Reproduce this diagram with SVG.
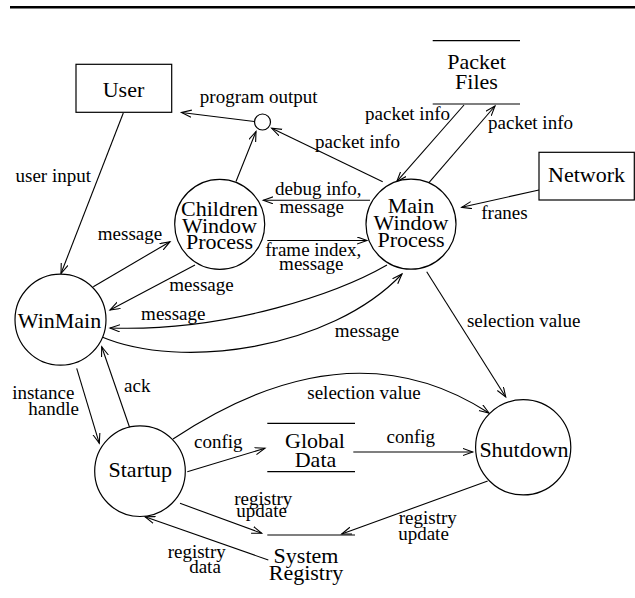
<svg xmlns="http://www.w3.org/2000/svg" width="635" height="598" viewBox="0 0 635 598">
<style>
text{font-family:'Liberation Serif','DejaVu Serif',serif;fill:#000;text-anchor:middle}
.n{font-size:22px}
.l{font-size:19px}
.e{text-anchor:end}
.s{fill:#fff;stroke:#000;stroke-width:1.2}
.b{stroke:#000;stroke-width:1.2;fill:none}
.c{fill:none;stroke:#000;stroke-width:1.1;marker-end:url(#arr)}
</style>
<defs>
<marker id="arr" markerWidth="12" markerHeight="10" refX="10" refY="4" orient="auto" markerUnits="userSpaceOnUse">
<path d="M0,0.4 L10,4 L0,7.6" fill="none" stroke="#000" stroke-width="1.1"/>
</marker>
</defs>
<rect width="635" height="598" fill="#fff"/>
<line x1="10" y1="7.2" x2="635" y2="7.2" stroke="#000" stroke-width="2.6"/>

<g id="connectors" font-family="Liberation Serif, DejaVu Serif, serif">
<line class="c" x1="123.3" y1="113" x2="61" y2="273.5"/>
<line class="c" x1="254.3" y1="121.5" x2="181.5" y2="112.5"/>
<line class="c" x1="236" y1="181.5" x2="256" y2="131.5"/>
<line class="c" x1="382.7" y1="181.7" x2="271.7" y2="128.3"/>
<line class="c" x1="370" y1="200.3" x2="263.3" y2="200.3"/>
<line class="c" x1="267.3" y1="240.5" x2="367" y2="240.5"/>
<line class="c" x1="93.3" y1="286.7" x2="170" y2="241.7"/>
<line class="c" x1="195" y1="265" x2="110" y2="310"/>
<path class="c" d="M387,265 C340,292 230,332 110,328"/>
<path class="c" d="M102,337 C180,370 330,350 402,274"/>
<line class="c" x1="76.7" y1="368.3" x2="99.3" y2="443.3"/>
<line class="c" x1="130.5" y1="430" x2="101.7" y2="346.7"/>
<path class="c" d="M173,439 Q349,322 489,413"/>
<line class="c" x1="426.7" y1="271.7" x2="505.7" y2="397"/>
<line class="c" x1="187.3" y1="471.7" x2="265" y2="448.3"/>
<line class="c" x1="353.3" y1="452" x2="472.7" y2="452"/>
<line class="c" x1="180" y1="503.3" x2="261.7" y2="533.3"/>
<line class="c" x1="487.7" y1="481" x2="341.7" y2="534"/>
<line class="c" x1="268.3" y1="560" x2="145" y2="516.7"/>
<line class="c" x1="428.3" y1="183.3" x2="495" y2="106"/>
<line class="c" x1="464" y1="105" x2="396.7" y2="181.7"/>
<line class="c" x1="539" y1="190" x2="461.7" y2="207.3"/>

<text class="l e" x="91" y="182">user input</text>
<text class="l" x="258.7" y="102.5">program output</text>
<text class="l e" x="400" y="148.3">packet info</text>
<text class="l" x="407.5" y="120">packet info</text>
<text class="l" x="530.5" y="129.3">packet info</text>
<text class="l" x="504.5" y="219.3">franes</text>
<text class="l" x="318.3" y="195">debug info,</text>
<text class="l" x="311.7" y="212.7">message</text>
<text class="l" x="313.3" y="256">frame index,</text>
<text class="l" x="311.3" y="270">message</text>
<text class="l" x="130" y="240">message</text>
<text class="l" x="201.5" y="291">message</text>
<text class="l" x="173.3" y="320">message</text>
<text class="l" x="367" y="336.7">message</text>
<text class="l" x="523.7" y="327.3">selection value</text>
<text class="l" x="43.3" y="399.3">instance</text>
<text class="l" x="53.7" y="415">handle</text>
<text class="l" x="137.3" y="391.7">ack</text>
<text class="l" x="364" y="399.3">selection value</text>
<text class="l" x="218.3" y="448">config</text>
<text class="l" x="410.8" y="442.7">config</text>
<text class="l" x="263.3" y="505">registry</text>
<text class="l" x="261.7" y="517.3">update</text>
<text class="l" x="427.8" y="524">registry</text>
<text class="l" x="423.5" y="540">update</text>
<text class="l" x="196.7" y="558.3">registry</text>
<text class="l" x="205" y="572.7">data</text>
</g>

<g id="user" font-family="Liberation Serif, DejaVu Serif, serif">
<rect class="s" x="76" y="64.3" width="95.7" height="48"/>
<text class="n" x="123.5" y="96.7">User</text>
</g>
<g id="network" font-family="Liberation Serif, DejaVu Serif, serif">
<rect class="s" x="539" y="152.3" width="95.3" height="47.7"/>
<text class="n" x="586.5" y="181.7">Network</text>
</g>
<g id="packet-files" font-family="Liberation Serif, DejaVu Serif, serif">
<line class="b" x1="432.7" y1="40.7" x2="520" y2="40.7"/>
<line class="b" x1="432.7" y1="104" x2="520" y2="104"/>
<text class="n" x="476.5" y="69.3">Packet</text>
<text class="n" x="476.5" y="89">Files</text>
</g>
<g id="output-junction">
<circle class="s" cx="262.5" cy="122" r="8"/>
</g>
<g id="children-window-process" font-family="Liberation Serif, DejaVu Serif, serif">
<circle class="s" cx="219.7" cy="224.3" r="45"/>
<text class="n" x="219.5" y="215.5">Children</text>
<text class="n" x="219.5" y="232.5">Window</text>
<text class="n" x="219.5" y="248.5">Process</text>
</g>
<g id="main-window-process" font-family="Liberation Serif, DejaVu Serif, serif">
<circle class="s" cx="411" cy="224.2" r="45"/>
<text class="n" x="411" y="213">Main</text>
<text class="n" x="411" y="230.3">Window</text>
<text class="n" x="411" y="247.3">Process</text>
</g>
<g id="winmain" font-family="Liberation Serif, DejaVu Serif, serif">
<circle class="s" cx="60.5" cy="319.7" r="45.5"/>
<text class="n" x="59.5" y="327.7">WinMain</text>
</g>
<g id="startup" font-family="Liberation Serif, DejaVu Serif, serif">
<circle class="s" cx="140" cy="471.2" r="45.3"/>
<text class="n" x="140.3" y="476.5">Startup</text>
</g>
<g id="shutdown" font-family="Liberation Serif, DejaVu Serif, serif">
<circle class="s" cx="523.2" cy="447.3" r="47.6"/>
<text class="n" x="524" y="456.7">Shutdown</text>
</g>
<g id="global-data" font-family="Liberation Serif, DejaVu Serif, serif">
<line class="b" x1="267.3" y1="423.3" x2="355" y2="423.3"/>
<line class="b" x1="267.3" y1="471.7" x2="355" y2="471.7"/>
<text class="n" x="315" y="448.3">Global</text>
<text class="n" x="315.5" y="466.7">Data</text>
</g>
<g id="system-registry" font-family="Liberation Serif, DejaVu Serif, serif">
<line class="b" x1="267.3" y1="535" x2="355" y2="535"/>
<text class="n" x="306" y="563.3">System</text>
<text class="n" x="306" y="580">Registry</text>
</g>
</svg>
